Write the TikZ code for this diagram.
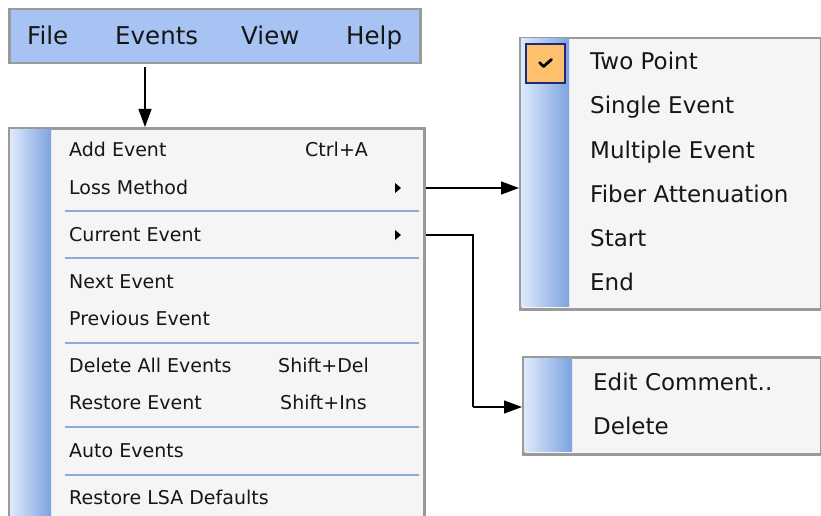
\documentclass[tikz,border=0pt]{standalone}
\usepackage{fontspec}
\setmainfont{DejaVu Sans}
\usetikzlibrary{arrows.meta}
\definecolor{menugrey}{HTML}{9A9A9A}
\definecolor{menufill}{HTML}{F5F5F5}
\definecolor{barblue}{HTML}{A6C3F3}
\definecolor{sidelight}{HTML}{DEEAFC}
\definecolor{sidedark}{HTML}{7DA3DF}
\definecolor{sepblue}{HTML}{8CA9DD}
\definecolor{checkorange}{HTML}{FFC06E}
\definecolor{checknavy}{HTML}{1C2A7A}
\definecolor{menutext}{HTML}{161616}
\tikzstyle{menubox}=[draw=menugrey, line width=2.5pt, fill=menufill, inner sep=0pt, anchor=north west]
\tikzstyle{barbox}=[menubox, fill=barblue]
\tikzstyle{bartitle}=[anchor=base west, inner sep=0pt, text=menutext, font=\fontsize{24.5pt}{28pt}\selectfont]
\tikzstyle{item}=[anchor=base west, inner sep=0pt, text=menutext, font=\fontsize{19pt}{22pt}\selectfont]
\tikzstyle{subitem}=[item, font=\fontsize{23pt}{27pt}\selectfont]
\tikzstyle{sep} = [draw=sepblue, line width=2pt]
\tikzstyle{link} = [draw, line width=1.2pt, -{Triangle[length=18pt,width=13pt]}]

\begin{document}
\begin{tikzpicture}[x=1pt, y=-1pt]
    \useasboundingbox (0,0) rectangle (821,516);

    % menu bar
    \node[barbox, minimum width=411pt, minimum height=54pt] (bar) at (8,8) {};
    \foreach \x/ \name in {27/File, 115/Events, 241/View, 346/Help}
        \node[bartitle] (\name) at (\x,44.5) {\name};

    % events menu
    \node[menubox, minimum width=415pt, minimum height=420pt] (evmenu) at (8,127) {};
    \shade[left color=sidelight, right color=sidedark] (10,129) rectangle (51,548);
    \foreach \y/ \name/ \txt in {156.5/add/Add Event, 194/loss/Loss Method, 241/cur/Current Event, 288/next/Next Event, 325/prev/Previous Event, 372.5/delall/Delete All Events, 409.5/restore/Restore Event, 457/auto/Auto Events, 504/lsa/Restore LSA Defaults}
        \node[item] (\name) at (69,\y) {\txt};
    \foreach \x/ \y/ \txt in {305/156.5/Ctrl+A, 278/372.5/Shift+Del, 280/409.5/Shift+Ins}
        \node[item] at (\x,\y) {\txt};
    \foreach \y in {211, 258, 343, 427, 475}
        \path[sep] (65,\y) -- (419,\y);
    \foreach \y/ \name in {188/losstri, 235/curtri}{
        \coordinate (\name) at (398,\y);
        \fill[black] (\name) ++(-3,-5) -- ++(6,5) -- ++(-6,5) -- cycle;
    }

    % loss method submenu
    \node[menubox, minimum width=301pt, minimum height=271pt] (lossmenu) at (519,37) {};
    \shade[left color=sidelight, right color=sidedark] (521,39) rectangle (569,306);
    \node[draw=checknavy, line width=2pt, fill=checkorange, minimum width=39pt, minimum height=39pt, anchor=north west] (check) at (525,43) {};
    \draw[line width=2.8pt, line cap=round, line join=round] (check.center) ++(-6,-1) -- ++(4,4) -- ++(8,-7);
    \foreach \y/ \name/ \txt in {70/two/Two Point, 113.5/single/Single Event, 158/multi/Multiple Event, 202/fiber/Fiber Attenuation, 246.5/start/Start, 290.5/end/End}
        \node[subitem] (\name) at (590,\y) {\txt};

    % current event submenu
    \node[menubox, minimum width=298pt, minimum height=97pt] (curmenu) at (522,356) {};
    \shade[left color=sidelight, right color=sidedark] (524,358) rectangle (572,451);
    \node[subitem] (edit) at (593,390) {Edit Comment..};
    \node[subitem] (del) at (593,434) {Delete};

    \coordinate (drop) at (145,67);
    \coordinate (bend) at (473,407);
    \path[link] (drop) -- (drop |- evmenu.north);
    \path[link] (evmenu.east |- losstri) -- (lossmenu.west |- losstri);
    \draw[line width=1.2pt] (evmenu.east |- curtri) -| (bend);
    \path[link] (bend) -- (curmenu.west |- bend);
\end{tikzpicture}
\end{document}
